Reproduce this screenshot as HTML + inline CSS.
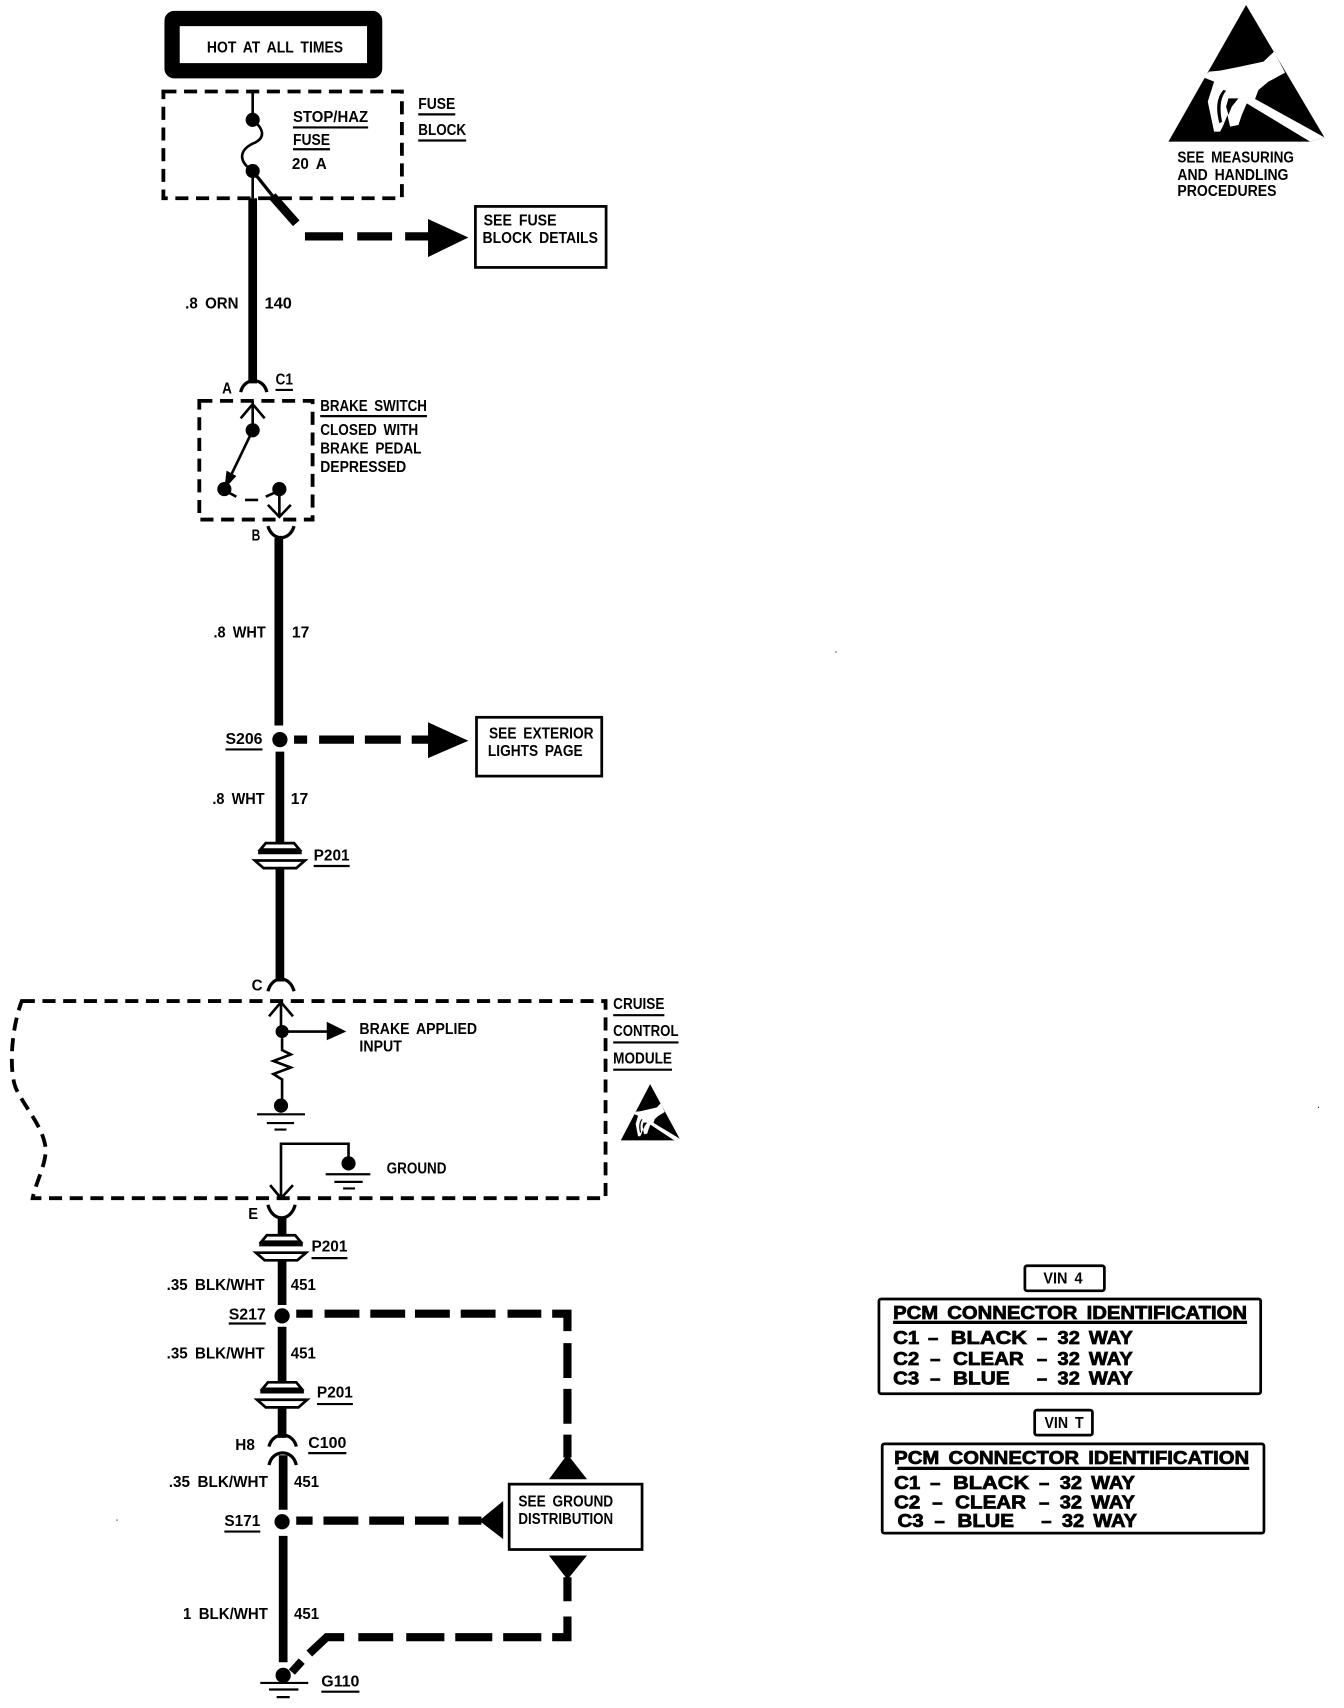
<!DOCTYPE html>
<html><head><meta charset="utf-8"><style>
html,body{margin:0;padding:0;background:#fff}
svg{display:block}
text{font-family:"Liberation Sans",sans-serif;font-weight:bold;font-size:14px;dominant-baseline:central;fill:#000;word-spacing:3px;transform:translateY(1px)}
.p text,text.p{font-size:17px;stroke:#000;stroke-width:.7}
.d{fill:none;stroke:#000;stroke-width:3.5;stroke-dasharray:12 7}
.u{stroke:#000;stroke-width:2}
.w{stroke:#000;stroke-width:8;fill:none}
.t{stroke:#000;stroke-width:2.4;fill:none}
.h{stroke:#000;stroke-width:7.5;fill:none}
.a{stroke:#000;stroke-width:3;fill:none}
</style></head><body>
<svg width="1344" height="1708" viewBox="0 0 1234 1568" preserveAspectRatio="none" xmlns="http://www.w3.org/2000/svg">
<defs>
<g id="cn"><path d="M-18,-8 L-13,-14 H13 L18,-8Z" fill="#fff" stroke="#000" stroke-width="2.500"/><path d="M-20,-5.500 H20" stroke="#000" stroke-width="3.500"/><path d="M-23,2 L-15,9 H15 L23,2Z" fill="#fff" stroke="#000" stroke-width="2.500"/></g>
<g id="esd">
<path d="M318,15L553,412L510,425L85,425Z"/>
<path d="M190,232L207,215L240,212L300,200L370,185L402,155L435,218L385,245L355,270L345,297L553,412L510,425L320,310L305,345L295,375L270,380L262,345L250,375L240,395L222,395L203,305L222,245Z" fill="#fff"/>
<path d="M250,270C232,290 225,320 238,370L246,365C238,325 240,295 258,272Z"/>
<path d="M265,295L295,295L275,320L265,345L258,320Z"/>
</g>
</defs>
<rect x="158" y="17" width="186" height="48" fill="#fff" stroke="#000" stroke-width="14" rx="2"/>
<text x="190" y="43" textLength="125" lengthAdjust="spacingAndGlyphs">HOT AT ALL TIMES</text>

<rect class="d" x="150" y="84" width="219" height="98"/>
<path class="t" d="M232,84V110C242,118 244,126 234,131C222,136 216,146 232,157V182"/>
<circle cx="232" cy="110" r="6.500"/><circle cx="232" cy="157" r="6.500"/>
<path class="w" d="M232,182V352"/>
<path class="a" d="M232,157L252,182"/><path class="w" d="M250,180L272,205"/>
<path class="h" d="M280,217H315M328,217H360M372,217H396"/><path d="M393,201L430,218L393,236Z"/>
<rect x="436.500" y="189.500" width="120" height="56" fill="#fff" stroke="#000" stroke-width="2.500"/>
<text x="444" y="202" textLength="67" lengthAdjust="spacingAndGlyphs">SEE FUSE</text>
<text x="443" y="218" textLength="106" lengthAdjust="spacingAndGlyphs">BLOCK DETAILS</text>
<text x="384" y="95" textLength="34" lengthAdjust="spacingAndGlyphs">FUSE</text><path class="u" d="M384,105H418"/>
<text x="384" y="119" textLength="44" lengthAdjust="spacingAndGlyphs">BLOCK</text><path class="u" d="M384,129H428"/>
<text x="269" y="107" textLength="69" lengthAdjust="spacingAndGlyphs">STOP/HAZ</text><path class="u" d="M269,117H338"/>
<text x="269" y="128" textLength="34" lengthAdjust="spacingAndGlyphs">FUSE</text><path class="u" d="M269,137H303"/>
<text x="268" y="150" textLength="32" lengthAdjust="spacingAndGlyphs">20 A</text>
<text x="170" y="278" textLength="49" lengthAdjust="spacingAndGlyphs">.8 ORN</text>
<text x="243" y="278" textLength="25" lengthAdjust="spacingAndGlyphs">140</text>

<text x="204" y="356" textLength="9" lengthAdjust="spacingAndGlyphs">A</text>
<path class="a" d="M221,360C224,346 242,346 245,360"/>
<text x="253" y="348" textLength="16" lengthAdjust="spacingAndGlyphs">C1</text><path class="u" d="M253,358H269"/>
<rect class="d" x="183" y="368" width="104" height="109"/>
<path class="t" d="M232,368V395M221,384L232,371L243,384"/>
<circle cx="232" cy="395" r="6.500"/>
<path class="t" d="M232,395L206,449"/><path d="M206,449L208,432L217,437Z"/>
<circle cx="206" cy="449" r="6.500"/><circle cx="256.500" cy="449" r="6.500"/>
<path class="t" d="M206,450L217,456M225,459H237M244,456L253,452"/>
<path class="t" d="M256.500,449V475M246,463.500L256.500,474.500L267,463.500"/>
<text x="294" y="372" textLength="98" lengthAdjust="spacingAndGlyphs">BRAKE SWITCH</text><path class="u" d="M294,382H392"/>
<text x="294" y="394" textLength="90" lengthAdjust="spacingAndGlyphs">CLOSED WITH</text>
<text x="294" y="411" textLength="93" lengthAdjust="spacingAndGlyphs">BRAKE PEDAL</text>
<text x="294" y="428" textLength="79" lengthAdjust="spacingAndGlyphs">DEPRESSED</text>
<text x="231" y="491" textLength="8" lengthAdjust="spacingAndGlyphs">B</text>
<path class="a" d="M246,483C250,497 266,497 270,483"/>
<path class="w" d="M256,494V666"/>
<text x="196" y="580" textLength="48" lengthAdjust="spacingAndGlyphs">.8 WHT</text>
<text x="268" y="580" textLength="16" lengthAdjust="spacingAndGlyphs">17</text>
<text x="207" y="678" textLength="34" lengthAdjust="spacingAndGlyphs">S206</text><path class="u" d="M207,688H241"/>
<circle cx="257" cy="679" r="7"/>
<path class="h" d="M270,679H282M293,679H325M335,679H368M378,679H396"/><path d="M393,663L430,680L393,696Z"/>
<rect x="437.500" y="658.500" width="115" height="54" fill="#fff" stroke="#000" stroke-width="2.500"/>
<text x="449" y="673" textLength="96" lengthAdjust="spacingAndGlyphs">SEE EXTERIOR</text>
<text x="448" y="689" textLength="87" lengthAdjust="spacingAndGlyphs">LIGHTS PAGE</text>
<path class="w" d="M257,690V775"/>
<text x="195" y="733" textLength="48" lengthAdjust="spacingAndGlyphs">.8 WHT</text>
<text x="267" y="733" textLength="16" lengthAdjust="spacingAndGlyphs">17</text>
<use href="#cn" x="257" y="788"/>
<text x="288" y="785" textLength="33" lengthAdjust="spacingAndGlyphs">P201</text><path class="u" d="M288,795H321"/>
<path class="w" d="M257,797V901"/>
<text x="231" y="904" textLength="10" lengthAdjust="spacingAndGlyphs">C</text>
<path class="a" d="M246,910C250,895 266,895 270,910"/>

<path class="d" d="M20,919H556V1100H30C33,1085 42,1070 42,1055C40,1035 25,1020 15,1000C8,985 10,945 20,919Z"/>
<text x="563" y="921" textLength="47" lengthAdjust="spacingAndGlyphs">CRUISE</text><path class="u" d="M563,932H610"/>
<text x="563" y="946" textLength="60" lengthAdjust="spacingAndGlyphs">CONTROL</text><path class="u" d="M563,957H623"/>
<text x="563" y="971" textLength="54" lengthAdjust="spacingAndGlyphs">MODULE</text><path class="u" d="M563,982H617"/>
<use href="#esd" transform="translate(560.200,993.400) scale(.1154,.126)"/>
<path class="t" d="M258,919V947M247,933L258,920L269,933"/>
<circle cx="259" cy="947" r="6"/>
<path class="t" d="M259,947H302"/><path d="M300,938L318,947L300,955Z"/>
<text x="330" y="944" textLength="108" lengthAdjust="spacingAndGlyphs">BRAKE APPLIED</text>
<text x="330" y="960" textLength="39" lengthAdjust="spacingAndGlyphs">INPUT</text>
<path class="t" d="M259,953V964L267,968L251,974L267,980L251,986L259,991V1015"/>
<circle cx="258" cy="1015" r="6.500"/>
<path class="u" d="M236,1023H280M245,1031H270M252,1037H263"/>
<path class="t" d="M320,1068V1050H258V1100M248,1088L258,1100L269,1088"/>
<circle cx="320" cy="1068" r="6.500"/>
<path class="u" d="M299,1078H340M307,1085H333M315,1091H326"/>
<text x="355" y="1072" textLength="55" lengthAdjust="spacingAndGlyphs">GROUND</text>
<text x="228" y="1114" textLength="9" lengthAdjust="spacingAndGlyphs">E</text>
<path class="a" d="M246,1106C250,1122 267,1122 271,1106"/>
<path class="w" d="M259,1118V1135"/>
<use href="#cn" x="258" y="1148"/>
<text x="286" y="1144" textLength="33" lengthAdjust="spacingAndGlyphs">P201</text><path class="u" d="M286,1155H319"/>
<path class="w" d="M259,1157V1198"/>
<text x="153" y="1179" textLength="90" lengthAdjust="spacingAndGlyphs">.35 BLK/WHT</text>
<text x="267" y="1179" textLength="23" lengthAdjust="spacingAndGlyphs">451</text>
<text x="210" y="1206" textLength="34" lengthAdjust="spacingAndGlyphs">S217</text><path class="u" d="M210,1215H244"/>
<circle cx="259" cy="1208" r="7"/>
<path class="h" d="M272,1206H287M298,1206H330M340,1206H372M381,1206H413M423,1206H455M466,1206H497M507,1206H521V1222M521,1233V1265M521,1275V1307M521,1317V1338"/>
<path d="M521,1335L539,1358H504Z"/>
<path class="w" d="M259,1218V1270"/>
<text x="153" y="1242" textLength="90" lengthAdjust="spacingAndGlyphs">.35 BLK/WHT</text>
<text x="267" y="1242" textLength="23" lengthAdjust="spacingAndGlyphs">451</text>
<use href="#cn" x="259" y="1283"/>
<text x="291" y="1278" textLength="33" lengthAdjust="spacingAndGlyphs">P201</text><path class="u" d="M291,1289H324"/>
<path class="w" d="M259,1292V1320M260,1336V1386"/>
<text x="216" y="1326" textLength="18" lengthAdjust="spacingAndGlyphs">H8</text>
<path class="a" d="M247,1328C250,1314 269,1314 272,1328M247,1345C250,1330 269,1330 272,1345"/>
<text x="283" y="1324" textLength="35" lengthAdjust="spacingAndGlyphs">C100</text><path class="u" d="M283,1334H318"/>
<text x="155" y="1360" textLength="91" lengthAdjust="spacingAndGlyphs">.35 BLK/WHT</text>
<text x="270" y="1360" textLength="23" lengthAdjust="spacingAndGlyphs">451</text>
<text x="206" y="1396" textLength="33" lengthAdjust="spacingAndGlyphs">S171</text><path class="u" d="M206,1406H239"/>
<circle cx="259" cy="1397" r="7"/>
<path class="h" d="M272,1396H287M297,1396H329M339,1396H371M381,1396H412M421,1396H442"/>
<path d="M440,1396L462,1378V1413Z"/>
<rect x="467.500" y="1362.500" width="122" height="60" fill="#fff" stroke="#000" stroke-width="2.500"/>
<text x="476" y="1378" textLength="87" lengthAdjust="spacingAndGlyphs">SEE GROUND</text>
<text x="476" y="1394" textLength="87" lengthAdjust="spacingAndGlyphs">DISTRIBUTION</text>
<path d="M504,1428H539L521,1450Z"/>
<path class="w" d="M260,1410V1526"/>
<text x="168" y="1481" textLength="78" lengthAdjust="spacingAndGlyphs">1 BLK/WHT</text>
<text x="270" y="1481" textLength="23" lengthAdjust="spacingAndGlyphs">451</text>
<path class="h" d="M521,1448V1470M521,1484V1503H507M497,1503H462M452,1503H418M408,1503H373M361,1503H329M316,1503H300L284,1518M277,1525L268,1535"/>
<circle cx="260" cy="1538" r="7"/>
<path class="u" d="M239,1545H283M247,1551H274M254,1558H266"/>
<text x="295" y="1543" textLength="35" lengthAdjust="spacingAndGlyphs">G110</text><path class="u" d="M295,1553H330"/>

<use href="#esd" transform="translate(1046.800,0) scale(.306,.306)"/>
<text x="1081" y="144" textLength="107" lengthAdjust="spacingAndGlyphs">SEE MEASURING</text>
<text x="1081" y="160" textLength="102" lengthAdjust="spacingAndGlyphs">AND HANDLING</text>
<text x="1081" y="175" textLength="91" lengthAdjust="spacingAndGlyphs">PROCEDURES</text>

<rect x="941" y="1162" width="73" height="23" rx="2" fill="#fff" stroke="#000" stroke-width="2.500"/>
<text x="958" y="1173" textLength="36" lengthAdjust="spacingAndGlyphs">VIN 4</text>
<rect x="807" y="1192.500" width="350.500" height="87" rx="2" fill="#fff" stroke="#000" stroke-width="2.500"/>
<g class="p">
<text x="820" y="1204" textLength="325" lengthAdjust="spacingAndGlyphs">PCM CONNECTOR IDENTIFICATION</text>
<text x="820" y="1227" textLength="24" lengthAdjust="spacingAndGlyphs">C1</text><text x="852" y="1227">–</text><text x="873" y="1227" textLength="70" lengthAdjust="spacingAndGlyphs">BLACK</text><text x="952" y="1227">–</text><text x="971" y="1227" textLength="69" lengthAdjust="spacingAndGlyphs">32 WAY</text>
<text x="820" y="1246" textLength="24" lengthAdjust="spacingAndGlyphs">C2</text><text x="854" y="1246">–</text><text x="875" y="1246" textLength="65" lengthAdjust="spacingAndGlyphs">CLEAR</text><text x="952" y="1246">–</text><text x="971" y="1246" textLength="69" lengthAdjust="spacingAndGlyphs">32 WAY</text>
<text x="820" y="1264" textLength="24" lengthAdjust="spacingAndGlyphs">C3</text><text x="854" y="1264">–</text><text x="875" y="1264" textLength="52" lengthAdjust="spacingAndGlyphs">BLUE</text><text x="952" y="1264">–</text><text x="971" y="1264" textLength="69" lengthAdjust="spacingAndGlyphs">32 WAY</text>
</g>
<path d="M820,1214H1145" stroke="#000" stroke-width="3"/>

<rect x="950" y="1294.500" width="53" height="23" rx="2" fill="#fff" stroke="#000" stroke-width="2.500"/>
<text x="959" y="1306" textLength="36" lengthAdjust="spacingAndGlyphs">VIN T</text>
<rect x="810" y="1325.500" width="350.500" height="82" rx="2" fill="#fff" stroke="#000" stroke-width="2.500"/>
<g class="p">
<text x="821" y="1337" textLength="326" lengthAdjust="spacingAndGlyphs">PCM CONNECTOR IDENTIFICATION</text>
<text x="821" y="1360" textLength="24" lengthAdjust="spacingAndGlyphs">C1</text><text x="854" y="1360">–</text><text x="875" y="1360" textLength="70" lengthAdjust="spacingAndGlyphs">BLACK</text><text x="954" y="1360">–</text><text x="973" y="1360" textLength="69" lengthAdjust="spacingAndGlyphs">32 WAY</text>
<text x="821" y="1378" textLength="24" lengthAdjust="spacingAndGlyphs">C2</text><text x="856" y="1378">–</text><text x="877" y="1378" textLength="65" lengthAdjust="spacingAndGlyphs">CLEAR</text><text x="954" y="1378">–</text><text x="973" y="1378" textLength="69" lengthAdjust="spacingAndGlyphs">32 WAY</text>
<text x="824" y="1395" textLength="24" lengthAdjust="spacingAndGlyphs">C3</text><text x="858" y="1395">–</text><text x="879" y="1395" textLength="52" lengthAdjust="spacingAndGlyphs">BLUE</text><text x="956" y="1395">–</text><text x="975" y="1395" textLength="69" lengthAdjust="spacingAndGlyphs">32 WAY</text>
</g>
<path d="M824,1348H1147" stroke="#000" stroke-width="3"/>

<rect x="767" y="598" width="1" height="1"/><rect x="1210" y="1016" width="1" height="1"/><rect x="107" y="1395" width="1" height="1"/>
</svg>
</body></html>
